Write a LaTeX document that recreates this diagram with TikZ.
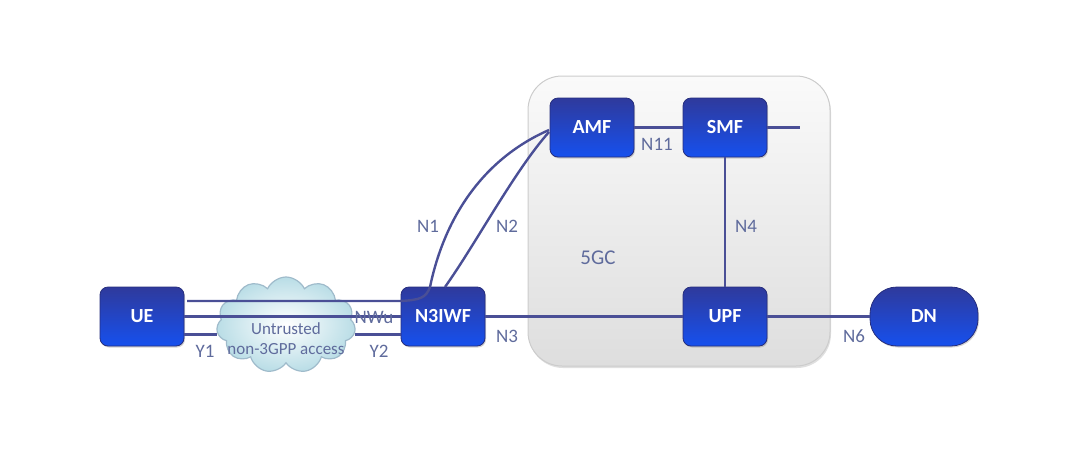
\documentclass[tikz,border=0pt]{standalone}
\usepackage{fontspec}
\setmainfont{Carlito}
\usetikzlibrary{positioning,shadows,shapes}
\definecolor{linkblue}{HTML}{4A4F96}
\definecolor{textblue}{HTML}{5F6B9C}
\definecolor{boxtop}{HTML}{2F3A9C}
\definecolor{boxbottom}{HTML}{1650EE}
\definecolor{cloudfill}{HTML}{B9DDE6}
\definecolor{cloudline}{HTML}{9FBBCB}
\tikzset{
	nf/.style={draw=boxtop!80!black,line width=.8pt,rounded corners=8pt,top color=boxtop,bottom color=boxbottom,minimum width=84pt,minimum height=59pt,text=white,font=\fontsize{20}{22}\selectfont\bfseries,drop shadow={shadow xshift=1pt,shadow yshift=-1.5pt,opacity=.35}},
	link/.style={draw=linkblue,line width=2.4pt},
	lbl/.style={text=textblue,font=\fontsize{19}{21}\selectfont,inner sep=0pt},
}
\begin{document}
\begin{tikzpicture}[x=1pt,y=-1pt]
		\useasboundingbox (0,0) rectangle (1080,467);
		% cadre 5GC
		\node (core) at (679,221) [draw=black!20,line width=1pt,rounded corners=34pt,top color=black!2,bottom color=black!13,minimum width=302pt,minimum height=290pt,drop shadow={shadow xshift=1pt,shadow yshift=-2pt,opacity=.25}] {};
		% fonctions
		\node [nf] (ue) at (142,316.5) {UE};
		\node [nf] (n3iwf) at (443,316.5) {N3IWF};
		\node [nf] (amf) at (592,127.5) {AMF};
		\node [nf] (smf) at (725,127.5) {SMF};
		\node [nf] (upf) at (725,316.5) {UPF};
		\node [nf,minimum width=108pt,rounded corners=27pt] (dn) at (924,316.5) {DN};
		% nuage
		\node (cloud) at (286,325) [cloud,cloud puffs=11,cloud puff arc=130,aspect=1.5,draw=cloudline,line width=1.2pt,inner color=white,outer color=cloudfill,minimum width=139pt,minimum height=96pt,inner sep=0pt] {};
		\node [lbl,font=\fontsize{17}{19}\selectfont] (untrusted) at (286,329) {Untrusted};
		\node [lbl,font=\fontsize{17}{19}\selectfont] (access) at (286,349) {non-3GPP access};
		% liens
		\coordinate (ue top) at (187,301);
		\coordinate (n1 knee) at (400,301);
		\coordinate (n1 turn) at (430,287);
		\coordinate (n2 start) at (445,287);
		\coordinate (amf n1) at (549,130);
		\coordinate (amf n2) at (549,132);
		\coordinate (smf end) at (800,127.5);
		\draw [link] (ue top) -- (n1 knee) .. controls (420,300) and (426,298) .. (n1 turn) .. controls (445,215) and (485,158) .. (amf n1);
		\draw [link] (n2 start) .. controls (475,245) and (515,170) .. (amf n2);
		\draw [link] (ue.east) -- (n3iwf.west);
		\draw [link] ([yshift=-18pt]ue.east) -- ([yshift=-18pt]ue.east -| cloud.west);
		\draw [link] ([yshift=-18pt]n3iwf.west) -- ([yshift=-18pt]n3iwf.west -| cloud.east);
		\draw [link] (n3iwf.east) -- (upf.west);
		\draw [link] (amf.east |- smf.west) -- (smf.west);
		\draw [link] (smf.east) -- (smf end);
		\draw [link] (smf.south) -- (upf.north);
		\draw [link] (upf.east) -- (dn.west);
		% texte
		\node [lbl] (n1) at (428,226) {N1};
		\node [lbl] (n2) at (507,226) {N2};
		\node [lbl] (n4) at (746,226) {N4};
		\node [lbl,font=\fontsize{21}{23}\selectfont] (fivegc) at (598,258) {5GC};
		\node [lbl] (n11) at (657,144) {N11};
		\node [lbl] (n6) at (854,336) {N6};
		\node [lbl] (n3) at (507,336) {N3};
		\node [lbl] (nwu) at (374,317) {NWu};
		\node [lbl] (y1) at (205,351) {Y1};
		\node [lbl] (y2) at (379,351) {Y2};
\end{tikzpicture}
\end{document}
